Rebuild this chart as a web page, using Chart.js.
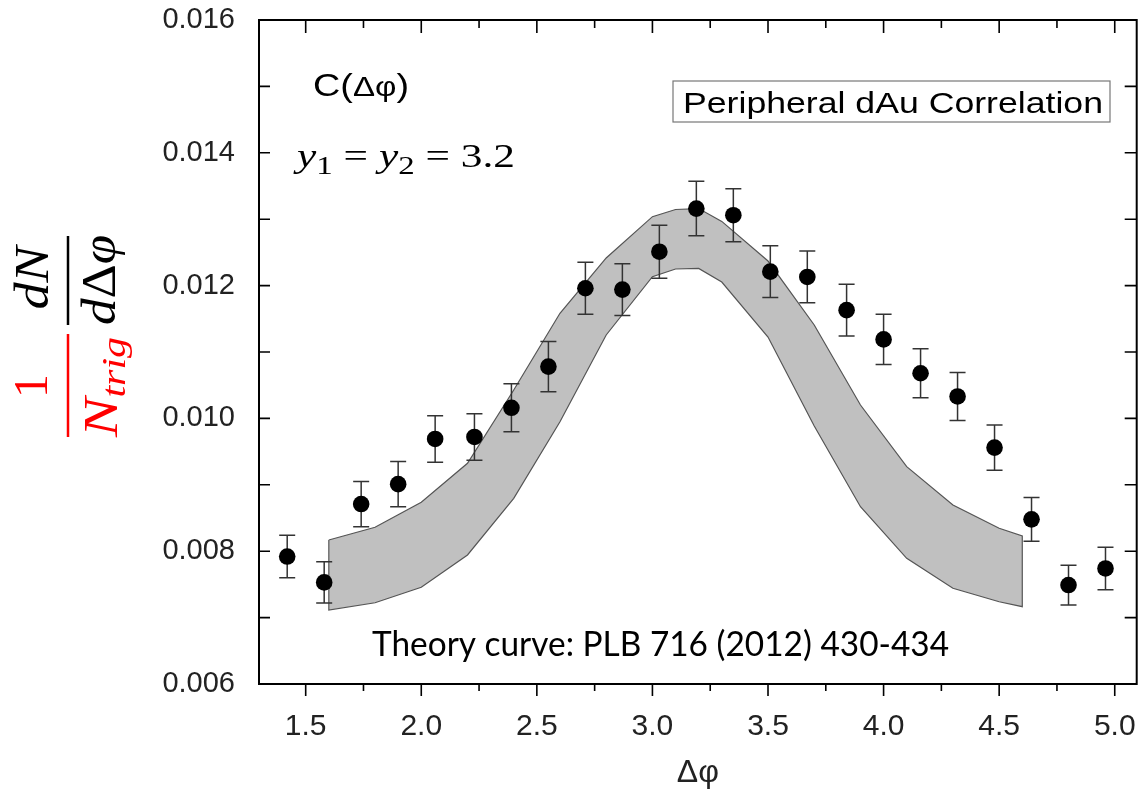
<!DOCTYPE html>
<html>
<head>
<meta charset="utf-8">
<script src="https://cdn.jsdelivr.net/npm/chart.js@4.4.1/dist/chart.umd.min.js"></script>
<style>
  body { margin: 0; background: #fff; }
</style>
</head>
<body>
<canvas id="corrChart" width="1145" height="798"></canvas>
<script>
var dphi = [1.42, 1.58, 1.74, 1.90, 2.06, 2.23, 2.39, 2.55, 2.71, 2.87, 3.03, 3.19,
            3.35, 3.51, 3.67, 3.84, 4.00, 4.16, 4.32, 4.48, 4.64, 4.80, 4.96];
var yieldVals = [0.00792, 0.00753, 0.00871, 0.00901, 0.00969, 0.00972, 0.01016, 0.01078,
                 0.01196, 0.01194, 0.01251, 0.01316, 0.01306, 0.01221, 0.01213, 0.01163,
                 0.01119, 0.01068, 0.01033, 0.00956, 0.00848, 0.00749, 0.00774];
var yieldErr = [0.00032, 0.00031, 0.00034, 0.00034, 0.00035, 0.00035, 0.00036, 0.00038,
                0.00039, 0.00039, 0.00040, 0.00041, 0.00040, 0.00039, 0.00039, 0.00039,
                0.00038, 0.00037, 0.00036, 0.00034, 0.00033, 0.00030, 0.00032];

// theory band (PLB 716)
var bandX     = [1.6, 1.8, 2.0, 2.2, 2.4, 2.6, 2.8, 3.0, 3.1, 3.2, 3.3, 3.5, 3.7, 3.9, 4.1, 4.3, 4.5, 4.6];
var bandUpper = [0.008169, 0.00836, 0.008736, 0.009324, 0.010428, 0.011583, 0.012416, 0.013038,
                 0.013146, 0.01316, 0.012967, 0.01237, 0.011407, 0.010202, 0.009273, 0.008696,
                 0.008345, 0.008229];
var bandLower = [0.007114, 0.007224, 0.007456, 0.007943, 0.008797, 0.00995, 0.011256, 0.012134,
                 0.01225, 0.012258, 0.012054, 0.011226, 0.009886, 0.00867, 0.007893, 0.007441,
                 0.007239, 0.007164];

// axis ticks
var xTickVals = [1.5, 2.0, 2.5, 3.0, 3.5, 4.0, 4.5, 5.0];
var xMinorVals = [1.75, 2.25, 2.75, 3.25, 3.75, 4.25, 4.75];
var yTickVals = [0.006, 0.008, 0.010, 0.012, 0.014, 0.016];
var yMinorVals = [0.007, 0.009, 0.011, 0.013, 0.015];

function toXY(xs, ys) {
    return xs.map(function (x, i) { return { x: x, y: ys[i] }; });
}

// closed outline of the band: upper left->right, lower right->left
var outlinePts = toXY(bandX, bandUpper)
    .concat(toXY(bandX, bandLower).reverse());
outlinePts.push({ x: bandX[0], y: bandUpper[0] });

// draw a row of text runs, squeezed/stretched to a width if given
function drawRuns(ctx, runs, x, y, targetW, align) {
    var total = 0;
    runs.forEach(function (r) {
        ctx.font = r.font;
        r.w = ctx.measureText(r.t).width;
        total += r.w;
    });
    var sx = targetW ? targetW / total : 1;
    var cx = align === 'center' ? -total / 2 : 0;
    ctx.save();
    ctx.translate(x, y);
    ctx.scale(sx, 1);
    ctx.textAlign = 'left';
    ctx.textBaseline = 'alphabetic';
    runs.forEach(function (r) {
        ctx.font = r.font;
        ctx.fillStyle = r.color || '#000';
        ctx.fillText(r.t, cx, r.dy || 0);
        cx += r.w;
    });
    ctx.restore();
}

// error bars, drawn just before the points
var errorBars = {
    id: 'errorBars',
    beforeDatasetDraw: function (chart, args) {
        if (args.index !== 0) return;
        var ctx = chart.ctx, xs = chart.scales.x, ys = chart.scales.y;
        ctx.save();
        ctx.strokeStyle = '#333';
        ctx.lineWidth = 1.5;
        for (var i = 0; i < dphi.length; i++) {
            var px = xs.getPixelForValue(dphi[i]);
            var top = ys.getPixelForValue(yieldVals[i] + yieldErr[i]);
            var bot = ys.getPixelForValue(yieldVals[i] - yieldErr[i]);
            ctx.beginPath();
            ctx.moveTo(px, top); ctx.lineTo(px, bot);
            ctx.moveTo(px - 8, top); ctx.lineTo(px + 8, top);
            ctx.moveTo(px - 8, bot); ctx.lineTo(px + 8, bot);
            ctx.stroke();
        }
        ctx.restore();
    }
};

// frame with inward ticks on left/top/right, outward on bottom
var frameTicks = {
    id: 'frameTicks',
    afterDatasetsDraw: function (chart) {
        var ctx = chart.ctx, a = chart.chartArea;
        var xs = chart.scales.x, ys = chart.scales.y;
        ctx.save();
        ctx.strokeStyle = '#000';
        ctx.lineWidth = 2;
        ctx.strokeRect(a.left, a.top, a.right - a.left, a.bottom - a.top);
        ctx.lineWidth = 1.6;
        ctx.beginPath();
        xTickVals.concat(xMinorVals).forEach(function (v) {
            var p = xs.getPixelForValue(v);
            var major = xTickVals.indexOf(v) >= 0;
            ctx.moveTo(p, a.bottom); ctx.lineTo(p, a.bottom + (major ? 12 : 7));
            ctx.moveTo(p, a.top); ctx.lineTo(p, a.top + (major ? 13 : 8));
        });
        yTickVals.concat(yMinorVals).forEach(function (v) {
            var p = ys.getPixelForValue(v);
            ctx.moveTo(a.left, p); ctx.lineTo(a.left + 11, p);
            ctx.moveTo(a.right, p); ctx.lineTo(a.right - 12, p);
        });
        ctx.stroke();
        ctx.restore();
    }
};

// texts inside the plot and the stacked y title
var annotations = {
    id: 'annotations',
    afterDraw: function (chart) {
        var ctx = chart.ctx;
        drawRuns(ctx, [
            { t: 'C(', font: '32px "Liberation Sans"' },
            { t: 'Δφ', font: '28px "Liberation Sans"' },
            { t: ')', font: '32px "Liberation Sans"' }
        ], 313, 96, 96);

        drawRuns(ctx, [
            { t: 'y', font: 'italic 33px "Liberation Serif"' },
            { t: '1', font: '25px "Liberation Serif"', dy: 7 },
            { t: ' = ', font: '33px "Liberation Serif"' },
            { t: 'y', font: 'italic 33px "Liberation Serif"' },
            { t: '2', font: '25px "Liberation Serif"', dy: 7 },
            { t: ' = 3.2', font: '33px "Liberation Serif"' }
        ], 297, 167, 218);

        ctx.save();
        ctx.strokeStyle = '#777';
        ctx.lineWidth = 1.2;
        ctx.strokeRect(673, 81, 437, 41);
        ctx.restore();
        drawRuns(ctx, [{ t: 'Peripheral dAu Correlation', font: '30px "Liberation Sans"' }], 683, 113, 420);

        drawRuns(ctx, [{ t: 'Theory curve: PLB 716 (2012) 430-434', font: '35px Lato' }], 372, 656, 577);

        // rotated y title: 1/N_trig  dN/dΔφ
        var red = '#ff0000';
        ctx.save();
        ctx.translate(68, 0);
        ctx.rotate(-Math.PI / 2);
        drawRuns(ctx, [{ t: '1', font: '48px "Liberation Serif"', color: red }], -386, -21, 0, 'center');
        drawRuns(ctx, [
            { t: 'N', font: 'italic 48px "Liberation Serif"', color: red },
            { t: 'trig', font: 'italic 34px "Liberation Serif"', color: red, dy: 8 }
        ], -437, 49, 100);
        drawRuns(ctx, [{ t: 'dN', font: 'italic 48px "Liberation Serif"' }], -278, -20, 63, 'center');
        drawRuns(ctx, [
            { t: 'd', font: 'italic 48px "Liberation Serif"' },
            { t: 'Δ', font: '48px "Liberation Serif"' },
            { t: 'φ', font: 'italic 48px "Liberation Serif"' }
        ], -280, 47, 90, 'center');
        ctx.lineWidth = 2.5;
        ctx.strokeStyle = red;
        ctx.beginPath(); ctx.moveTo(-437, 0); ctx.lineTo(-334, 0); ctx.stroke();
        ctx.strokeStyle = '#000';
        ctx.beginPath(); ctx.moveTo(-325, 0); ctx.lineTo(-236, 0); ctx.stroke();
        ctx.restore();
    }
};

var ctx = document.getElementById('corrChart').getContext('2d');

var corrChart = new Chart(ctx, {
    type: 'line',
    data: {
        datasets: [
            {
                label: 'Peripheral dAu',
                data: toXY(dphi, yieldVals),
                showLine: false,
                pointRadius: 8.3,
                pointBackgroundColor: '#000',
                pointBorderColor: '#000',
                pointBorderWidth: 0,
                order: 0
            },
            {
                label: 'band outline',
                data: outlinePts,
                borderColor: '#555',
                borderWidth: 1.2,
                pointRadius: 0,
                fill: false,
                tension: 0,
                order: 1
            },
            {
                label: 'band lower',
                data: toXY(bandX, bandLower),
                borderWidth: 0,
                pointRadius: 0,
                fill: false,
                order: 3
            },
            {
                label: 'band upper',
                data: toXY(bandX, bandUpper),
                borderWidth: 0,
                pointRadius: 0,
                backgroundColor: '#c0c0c0',
                fill: 2,
                order: 2
            }
        ]
    },
    options: {
        responsive: false,
        animation: false,
        layout: { padding: { top: 20, right: 3, left: 0, bottom: 0 } },
        plugins: {
            legend: { display: false },
            tooltip: { enabled: false }
        },
        scales: {
            x: {
                type: 'linear',
                min: 1.298,
                max: 5.095,
                grid: { display: false },
                border: { display: false },
                afterBuildTicks: function (s) {
                    s.ticks = xTickVals.map(function (v) { return { value: v }; });
                },
                afterFit: function (s) {
                    s.height = 114;
                    s.paddingLeft = 0; s.paddingRight = 0;
                },
                ticks: {
                    color: '#222',
                    padding: 17,
                    maxRotation: 0,
                    font: { family: 'Liberation Sans', size: 30 },
                    callback: function (v) { return v.toFixed(1); }
                },
                title: {
                    display: true,
                    text: 'Δφ',
                    color: '#222',
                    padding: { top: 0, bottom: 6 },
                    font: { family: 'Liberation Sans', size: 32 }
                }
            },
            y: {
                min: 0.006,
                max: 0.016,
                grid: { display: false },
                border: { display: false },
                afterBuildTicks: function (s) {
                    s.ticks = yTickVals.map(function (v) { return { value: v }; });
                },
                afterFit: function (s) {
                    s.width = 259;
                    s.paddingTop = 0; s.paddingBottom = 0;
                },
                ticks: {
                    color: '#222',
                    padding: 16,
                    font: { family: 'Liberation Sans', size: 29 },
                    callback: function (v) { return v.toFixed(3); }
                }
            }
        }
    },
    plugins: [errorBars, frameTicks, annotations]
});
</script>
</body>
</html>
